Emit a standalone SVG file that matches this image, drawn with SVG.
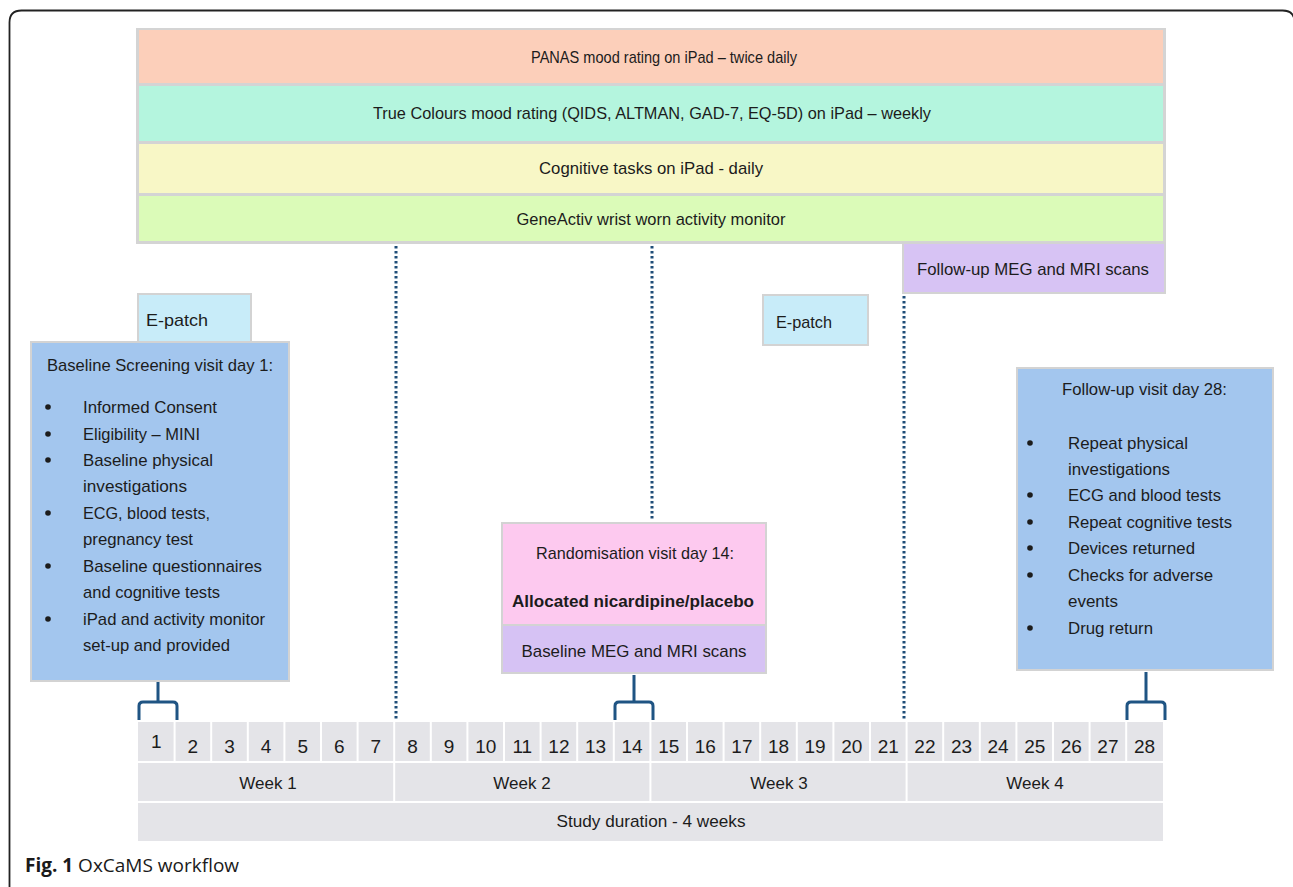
<svg xmlns="http://www.w3.org/2000/svg" width="1293" height="887" viewBox="0 0 1293 887">
<style>
.t{font-family:"Liberation Sans",Arial,sans-serif;fill:#1c1c1c;font-size:17px}
.c{text-anchor:middle}
.b{font-weight:bold}
.box{stroke:#d3d3d3;stroke-width:2}
.dot{stroke:#1f4e79;stroke-width:3;stroke-dasharray:2.5 2.5;fill:none}
.br{stroke:#1f5483;stroke-width:3;fill:none}
.num{font-family:"Liberation Sans",Arial,sans-serif;fill:#1c1c1c;font-size:19px;text-anchor:middle}
.cap{font-family:"Open Sans","Noto Sans",sans-serif;fill:#1a1a1a;font-size:19px}
</style>
<rect width="1293" height="887" fill="#ffffff"/>
<path d="M9.5,900 L9.5,22.5 Q9.5,10.5 21.5,10.5 L1282.6,10.5 Q1294.6,10.5 1294.6,22.5 L1294.6,900" fill="none" stroke="#222" stroke-width="1.8"/>

<g id="bars">
<rect x="136" y="28" width="1030" height="216" fill="#d4d4d4"/>
<g id="bar-panas"><rect x="139" y="30" width="1024" height="53" fill="#fccfba"/>
<text class="t c" x="664" y="63" textLength="266" lengthAdjust="spacingAndGlyphs">PANAS mood rating on iPad – twice daily</text></g>
<g id="bar-truecolours"><rect x="139" y="86" width="1024" height="55" fill="#b4f5de"/>
<text class="t c" x="652" y="119" textLength="558" lengthAdjust="spacingAndGlyphs">True Colours mood rating (QIDS, ALTMAN, GAD-7, EQ-5D) on iPad – weekly</text></g>
<g id="bar-cognitive"><rect x="139" y="144" width="1024" height="49" fill="#f8f7c6"/>
<text class="t c" x="651" y="174" textLength="224" lengthAdjust="spacingAndGlyphs">Cognitive tasks on iPad - daily</text></g>
<g id="bar-geneactiv"><rect x="139" y="196" width="1024" height="45" fill="#dbfbb8"/>
<text class="t c" x="651" y="225" textLength="269" lengthAdjust="spacingAndGlyphs">GeneActiv wrist worn activity monitor</text></g>
</g>

<g id="connectors">
<line class="dot" x1="396" y1="246" x2="396" y2="720"/>
<line class="dot" x1="652" y1="246" x2="652" y2="521"/>
<line class="dot" x1="904" y1="296" x2="904" y2="720"/>
<path class="br" d="M158,682 L158,702 M139,720 L139,706 Q139,702 143,702 L173,702 Q177,702 177,706 L177,720"/>
<path class="br" d="M634,675 L634,702 M615,720 L615,706 Q615,702 619,702 L649,702 Q653,702 653,706 L653,720"/>
<path class="br" d="M1146,672 L1146,702 M1127,720 L1127,706 Q1127,702 1131,702 L1161,702 Q1165,702 1165,706 L1165,720"/>
</g>

<g id="followup-scans">
<rect class="box" x="903" y="243" width="262" height="50" fill="#d7c3f4"/>
<text class="t c" x="1033" y="275" textLength="232" lengthAdjust="spacingAndGlyphs">Follow-up MEG and MRI scans</text>
</g>

<g id="epatch-1">
<rect class="box" x="138" y="294" width="113" height="48" fill="#c8ecf9"/>
<text class="t" x="146" y="326" textLength="62" lengthAdjust="spacingAndGlyphs">E-patch</text>
</g>

<g id="baseline-visit">
<rect class="box" x="31" y="342" width="258" height="339" fill="#a3c6ee"/>
<text class="t" x="47" y="371" textLength="226" lengthAdjust="spacingAndGlyphs">Baseline Screening visit day 1:</text>
<g fill="#1c1c1c">
<circle cx="48" cy="407" r="2.8"/><circle cx="48" cy="434" r="2.8"/><circle cx="48" cy="460" r="2.8"/>
<circle cx="48" cy="513" r="2.8"/><circle cx="48" cy="566" r="2.8"/><circle cx="48" cy="619" r="2.8"/>
</g>
<text class="t" x="83" y="413" textLength="134" lengthAdjust="spacingAndGlyphs">Informed Consent</text>
<text class="t" x="83" y="440" textLength="117" lengthAdjust="spacingAndGlyphs">Eligibility – MINI</text>
<text class="t" x="83" y="466" textLength="130" lengthAdjust="spacingAndGlyphs">Baseline physical</text>
<text class="t" x="83" y="492" textLength="104" lengthAdjust="spacingAndGlyphs">investigations</text>
<text class="t" x="83" y="519" textLength="127" lengthAdjust="spacingAndGlyphs">ECG, blood tests,</text>
<text class="t" x="83" y="545" textLength="110" lengthAdjust="spacingAndGlyphs">pregnancy test</text>
<text class="t" x="83" y="572" textLength="179" lengthAdjust="spacingAndGlyphs">Baseline questionnaires</text>
<text class="t" x="83" y="598" textLength="137" lengthAdjust="spacingAndGlyphs">and cognitive tests</text>
<text class="t" x="83" y="625" textLength="182" lengthAdjust="spacingAndGlyphs">iPad and activity monitor</text>
<text class="t" x="83" y="651" textLength="147" lengthAdjust="spacingAndGlyphs">set-up and provided</text>
</g>

<g id="epatch-2">
<rect class="box" x="763" y="295" width="105" height="50" fill="#c8ecf9"/>
<text class="t" x="776" y="328" textLength="56" lengthAdjust="spacingAndGlyphs">E-patch</text>
</g>

<g id="randomisation-visit">
<rect class="box" x="502" y="523" width="264" height="150" fill="#fdc9ef"/>
<rect x="503" y="626" width="262" height="46" fill="#d6c2f4"/>
<line x1="503" y1="625" x2="765" y2="625" stroke="#d3d3d3" stroke-width="2"/>
<text class="t c" x="635" y="559" font-size="18" textLength="198" lengthAdjust="spacingAndGlyphs">Randomisation visit day 14:</text>
<text class="t c b" x="633" y="607" font-size="18" textLength="242" lengthAdjust="spacingAndGlyphs">Allocated nicardipine/placebo</text>
<text class="t c" x="634" y="657" font-size="18" textLength="225" lengthAdjust="spacingAndGlyphs">Baseline MEG and MRI scans</text>
</g>

<g id="followup-visit">
<rect class="box" x="1017" y="368" width="256" height="302" fill="#a3c6ee"/>
<text class="t" x="1062" y="395" textLength="165" lengthAdjust="spacingAndGlyphs">Follow-up visit day 28:</text>
<g fill="#1c1c1c">
<circle cx="1030" cy="443" r="2.8"/><circle cx="1030" cy="495" r="2.8"/><circle cx="1030" cy="522" r="2.8"/>
<circle cx="1030" cy="548" r="2.8"/><circle cx="1030" cy="575" r="2.8"/><circle cx="1030" cy="628" r="2.8"/>
</g>
<text class="t" x="1068" y="449" textLength="120" lengthAdjust="spacingAndGlyphs">Repeat physical</text>
<text class="t" x="1068" y="475" textLength="102" lengthAdjust="spacingAndGlyphs">investigations</text>
<text class="t" x="1068" y="501" textLength="153" lengthAdjust="spacingAndGlyphs">ECG and blood tests</text>
<text class="t" x="1068" y="528" textLength="164" lengthAdjust="spacingAndGlyphs">Repeat cognitive tests</text>
<text class="t" x="1068" y="554" textLength="127" lengthAdjust="spacingAndGlyphs">Devices returned</text>
<text class="t" x="1068" y="581" textLength="145" lengthAdjust="spacingAndGlyphs">Checks for adverse</text>
<text class="t" x="1068" y="607" textLength="50" lengthAdjust="spacingAndGlyphs">events</text>
<text class="t" x="1068" y="634" textLength="85" lengthAdjust="spacingAndGlyphs">Drug return</text>
</g>

<g id="timeline">
<rect x="138" y="722" width="1025" height="39" fill="#e4e4e8"/>
<rect x="138" y="763" width="1025" height="38" fill="#e4e4e8"/>
<rect x="138" y="803" width="1025" height="38" fill="#e4e4e8"/>
<g stroke="#ffffff" stroke-width="2">
<line x1="174.6" y1="722" x2="174.6" y2="761"/><line x1="211.2" y1="722" x2="211.2" y2="761"/><line x1="247.8" y1="722" x2="247.8" y2="761"/>
<line x1="284.4" y1="722" x2="284.4" y2="761"/><line x1="321" y1="722" x2="321" y2="761"/><line x1="357.6" y1="722" x2="357.6" y2="761"/>
<line x1="394.2" y1="722" x2="394.2" y2="801"/><line x1="430.8" y1="722" x2="430.8" y2="761"/><line x1="467.4" y1="722" x2="467.4" y2="761"/>
<line x1="504" y1="722" x2="504" y2="761"/><line x1="540.6" y1="722" x2="540.6" y2="761"/><line x1="577.2" y1="722" x2="577.2" y2="761"/>
<line x1="613.8" y1="722" x2="613.8" y2="761"/><line x1="650.4" y1="722" x2="650.4" y2="801"/><line x1="687" y1="722" x2="687" y2="761"/>
<line x1="723.6" y1="722" x2="723.6" y2="761"/><line x1="760.2" y1="722" x2="760.2" y2="761"/><line x1="796.8" y1="722" x2="796.8" y2="761"/>
<line x1="833.4" y1="722" x2="833.4" y2="761"/><line x1="870" y1="722" x2="870" y2="761"/><line x1="906.6" y1="722" x2="906.6" y2="801"/>
<line x1="943.2" y1="722" x2="943.2" y2="761"/><line x1="979.8" y1="722" x2="979.8" y2="761"/><line x1="1016.4" y1="722" x2="1016.4" y2="761"/>
<line x1="1053" y1="722" x2="1053" y2="761"/><line x1="1089.6" y1="722" x2="1089.6" y2="761"/><line x1="1126.2" y1="722" x2="1126.2" y2="761"/>
</g>
<text class="num" x="156.3" y="748">1</text><text class="num" x="192.9" y="753">2</text><text class="num" x="229.5" y="753">3</text>
<text class="num" x="266.1" y="753">4</text><text class="num" x="302.7" y="753">5</text><text class="num" x="339.3" y="753">6</text>
<text class="num" x="375.9" y="753">7</text><text class="num" x="412.5" y="753">8</text><text class="num" x="449.1" y="753">9</text>
<text class="num" x="485.7" y="753">10</text><text class="num" x="522.3" y="753">11</text><text class="num" x="558.9" y="753">12</text>
<text class="num" x="595.5" y="753">13</text><text class="num" x="632.1" y="753">14</text><text class="num" x="668.7" y="753">15</text>
<text class="num" x="705.3" y="753">16</text><text class="num" x="741.9" y="753">17</text><text class="num" x="778.5" y="753">18</text>
<text class="num" x="815.1" y="753">19</text><text class="num" x="851.7" y="753">20</text><text class="num" x="888.3" y="753">21</text>
<text class="num" x="924.9" y="753">22</text><text class="num" x="961.5" y="753">23</text><text class="num" x="998.1" y="753">24</text>
<text class="num" x="1034.7" y="753">25</text><text class="num" x="1071.3" y="753">26</text><text class="num" x="1107.9" y="753">27</text>
<text class="num" x="1144.5" y="753">28</text>
<text class="t c" x="268" y="789" font-size="18">Week 1</text>
<text class="t c" x="522" y="789" font-size="18">Week 2</text>
<text class="t c" x="779" y="789" font-size="18">Week 3</text>
<text class="t c" x="1035" y="789" font-size="18">Week 4</text>
<text class="t c" x="651" y="827" textLength="189" lengthAdjust="spacingAndGlyphs">Study duration - 4 weeks</text>
</g>

<g id="caption">
<text class="cap" x="25" y="872"><tspan font-weight="bold">Fig. 1</tspan> OxCaMS workflow</text>
</g>
</svg>
